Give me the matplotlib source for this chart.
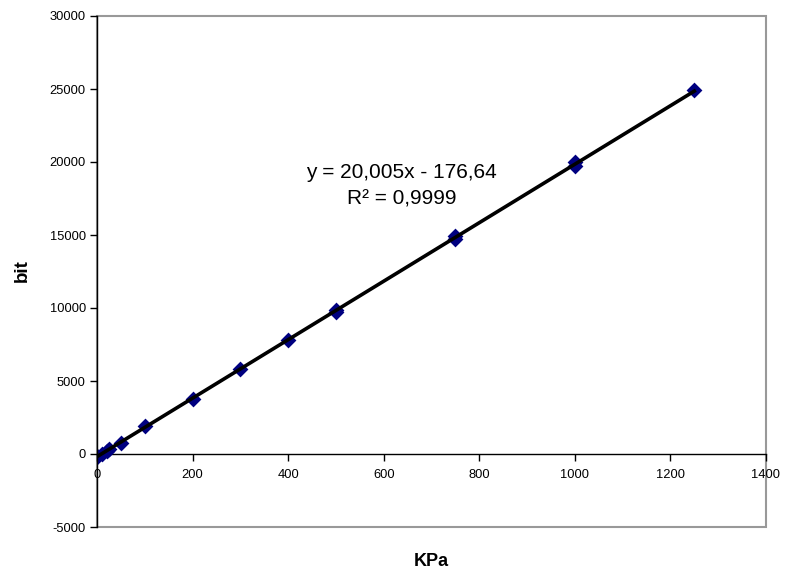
import matplotlib
matplotlib.use("Agg")
import matplotlib.pyplot as plt
import numpy as np
from matplotlib.patches import Rectangle

plt.rcParams['font.family'] = ['Liberation Sans', 'DejaVu Sans']
plt.rcParams['axes.unicode_minus'] = False

kpa = [0, 0, 10, 20, 25, 50, 100, 200, 300, 400, 500, 500, 750, 750, 1000, 1000, 1250]
bit = [-180, -120, 30, 230, 320, 780, 1900, 3800, 5800, 7800, 9700, 9850, 14750, 14950, 19700, 20000, 24900]
xticks = [0, 200, 400, 600, 800, 1000, 1200, 1400]
yticks = [-5000, 0, 5000, 10000, 15000, 20000, 25000, 30000]
eq_text = "y = 20,005x - 176,64"
r2_text = "R² = 0,9999"

fig = plt.figure(figsize=(7.85, 5.77), dpi=100)
ax = fig.add_axes([97/785, 1-527/577, (766-97)/785, (527-16)/577])

ax.scatter(kpa, bit, marker='D', s=65, color='#000080', zorder=3, linewidths=0)
slope, intercept = np.polyfit(kpa, bit, 1)
xl = np.array([min(kpa), max(kpa)])
ax.plot(xl, slope*xl + intercept, color='black', lw=2.6, zorder=4)

ax.set_xlim(0, 1400)
ax.set_ylim(-5000, 30000)
ax.set_xticks(xticks)
ax.set_yticks(yticks)
ax.tick_params(labelsize=9.3, length=5, width=1, colors='black')
ax.tick_params(axis='y', pad=3)
ax.tick_params(axis='x', pad=6)
ax.spines['bottom'].set_position(('data', 0))
ax.spines['top'].set_visible(False)
ax.spines['right'].set_visible(False)
for s in ['left', 'bottom']:
    ax.spines[s].set_color('black')
    ax.spines[s].set_linewidth(1)
ax.spines['bottom'].set_zorder(2)
ax.add_patch(Rectangle((0, 0), 1, 1, transform=ax.transAxes, fill=False,
                       edgecolor='#999999', lw=1.5, zorder=1, clip_on=False))
ax.spines['left'].set_zorder(5)

ax.text(638, 19300, eq_text, ha='center', va='center', fontsize=15)
ax.text(638, 17450, r2_text, ha='center', va='center', fontsize=15)

fig.text(431/785, 1-561/577, "KPa", ha='center', va='center', fontsize=13, fontweight='bold')
fig.text(22/785, 1-271/577, "bit", ha='center', va='center', fontsize=13.5, fontweight='bold', rotation=90)

fig.savefig("out.png", dpi=100)
